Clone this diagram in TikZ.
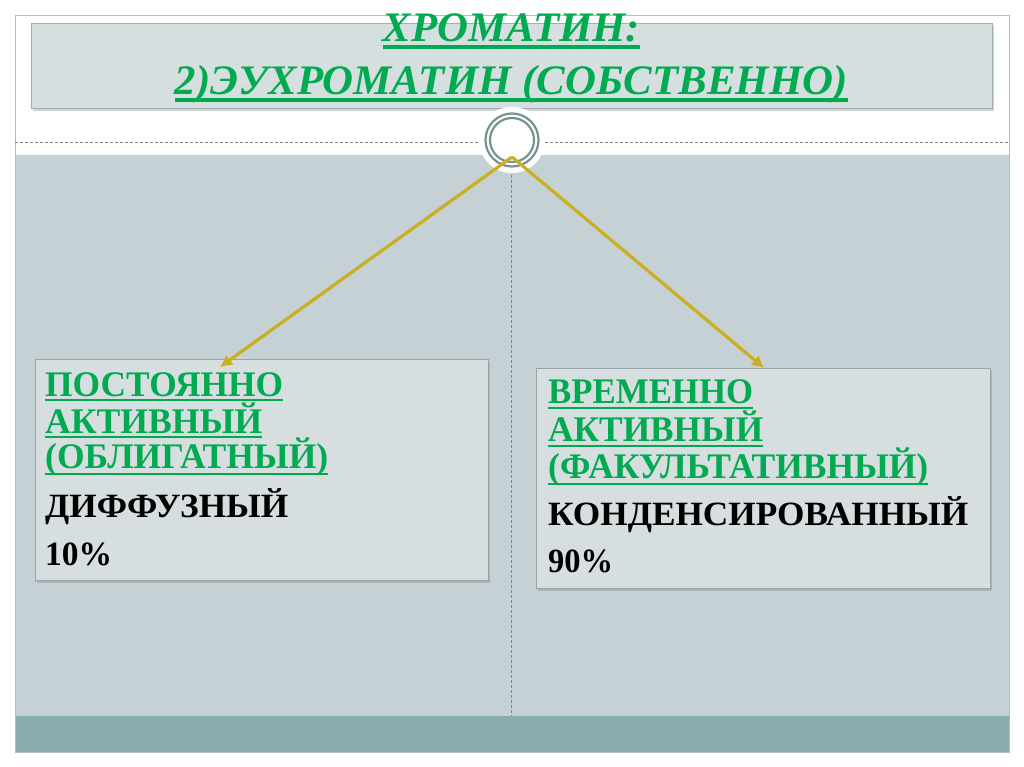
\documentclass[tikz,border=0pt]{standalone}
\usepackage{fontspec}
\setmainfont{Liberation Serif}
\usepackage{graphicx}
\usetikzlibrary{shadows,arrows.meta}
\definecolor{frameC}{RGB}{176,190,190}
\definecolor{titleFill}{RGB}{213,223,223}
\definecolor{titleLine}{RGB}{160,175,175}
\definecolor{areaC}{RGB}{198,209,214}
\definecolor{bandC}{RGB}{138,172,172}
\definecolor{boxFill}{RGB}{214,222,224}
\definecolor{boxLine}{RGB}{150,165,170}
\definecolor{greenC}{RGB}{0,170,80}
\definecolor{arrowC}{RGB}{200,176,32}
\definecolor{ringC}{RGB}{122,145,145}
\definecolor{dashC}{RGB}{120,135,150}
\tikzset{
  box/.style={draw=boxLine, line width=0.8pt, fill=boxFill, inner sep=0pt,
    drop shadow={opacity=0.35, shadow xshift=2pt, shadow yshift=-3pt}},
  txt/.style={inner sep=0pt, anchor=base west},
  ttl/.style={inner sep=0pt, anchor=base, text=greenC,
    font=\fontsize{42}{42}\selectfont\bfseries\itshape},
  gtxt/.style={txt, text=greenC, font=\fontsize{36}{36}\selectfont\bfseries},
  btxt/.style={txt, text=black, font=\fontsize{34}{34}\selectfont\bfseries},
  uline/.style={draw=greenC, line width=2.6pt},
  tuline/.style={draw=greenC, line width=3.4pt},
  arr/.style={draw=arrowC, line width=3.2pt, -{Latex[length=12pt,width=13pt]}}
}
\newcommand{\fitw}[2]{\resizebox{#1pt}{\height}{#2}}
\begin{document}
\begin{tikzpicture}[x=1pt,y=-1pt]
\useasboundingbox (0,0) rectangle (1024,767);
\fill[white] (0,0) rectangle (1024,767);
% outer frame
\draw[frameC, line width=0.8pt, fill=white] (15,15) rectangle (1009,752);
% gray main area and band
\fill[areaC] (15,155) rectangle (1009,716);
\fill[bandC] (15,716) rectangle (1009,752);
\draw[frameC, line width=0.8pt] (15,15) rectangle (1009,752);
% dotted line
\draw[dashC, densely dashed, line width=0.6pt] (15,142) -- (1009,142);
% vertical dashed line
\draw[dashC, densely dashed, line width=0.8pt] (511,160) -- (511,716);
% title box
\node[box, draw=titleLine, fill=titleFill, minimum width=961pt, minimum height=85pt] (tbox) at (511.5,66) {};
% circle
\node[circle, fill=white, minimum size=66pt, inner sep=0pt] (halo) at (512,140) {};
\draw[ringC, line width=2.2pt] (halo.center) circle[radius=26.5];
\draw[ringC, line width=2.2pt] (halo.center) circle[radius=22];
% boxes
\node[box, minimum width=453pt, minimum height=221pt] (lbox) at (261.5,469.5) {};
\node[box, minimum width=454pt, minimum height=220pt] (rbox) at (763,478) {};
% arrows
\coordinate (apex) at (512,157);
\coordinate (ltip) at (220,367);
\coordinate (rtip) at (764,368);
\draw[arr] (apex) -- (ltip);
\draw[arr] (apex) -- (rtip);
% title text
\node[ttl] (t1) at (511.5,42) {\fitw{257}{ХРОМАТИН:}};
\node[ttl] (t2) at (511.5,95) {\fitw{673}{2)ЭУХРОМАТИН (СОБСТВЕННО)}};
\draw[tuline] ([yshift=-5pt]t1.base west) -- ([yshift=-5pt]t1.base east);
\draw[tuline] ([yshift=-5pt]t2.base west) -- ([yshift=-5pt]t2.base east);
% left box text
\node[gtxt] (l1) at (45,396) {\fitw{238}{ПОСТОЯННО}};
\node[gtxt] (l2) at (45,433) {\fitw{217}{АКТИВНЫЙ}};
\node[gtxt] (l3) at (45,468) {\fitw{283}{(ОБЛИГАТНЫЙ)}};
\node[btxt] (l4) at (45,517) {\fitw{243}{ДИФФУЗНЫЙ}};
\node[btxt] (l5) at (45,565) {\fitw{67}{10\%}};
\draw[uline] ([yshift=-4pt]l1.base west) -- ([yshift=-4pt]l1.base east);
\draw[uline] ([yshift=-4pt]l2.base west) -- ([yshift=-4pt]l2.base east);
\draw[uline] ([yshift=-6pt]l3.base west) -- ([yshift=-6pt]l3.base east);
% right box text
\node[gtxt] (r1) at (548,403) {\fitw{205}{ВРЕМЕННО}};
\node[gtxt] (r2) at (548,441) {\fitw{215}{АКТИВНЫЙ}};
\node[gtxt] (r3) at (548,478) {\fitw{380}{(ФАКУЛЬТАТИВНЫЙ)}};
\node[btxt] (r4) at (548,525) {\fitw{420}{КОНДЕНСИРОВАННЫЙ}};
\node[btxt] (r5) at (548,572) {\fitw{65}{90\%}};
\draw[uline] ([yshift=-5pt]r1.base west) -- ([yshift=-5pt]r1.base east);
\draw[uline] ([yshift=-5pt]r2.base west) -- ([yshift=-5pt]r2.base east);
\draw[uline] ([yshift=-6pt]r3.base west) -- ([yshift=-6pt]r3.base east);
\end{tikzpicture}
\end{document}
